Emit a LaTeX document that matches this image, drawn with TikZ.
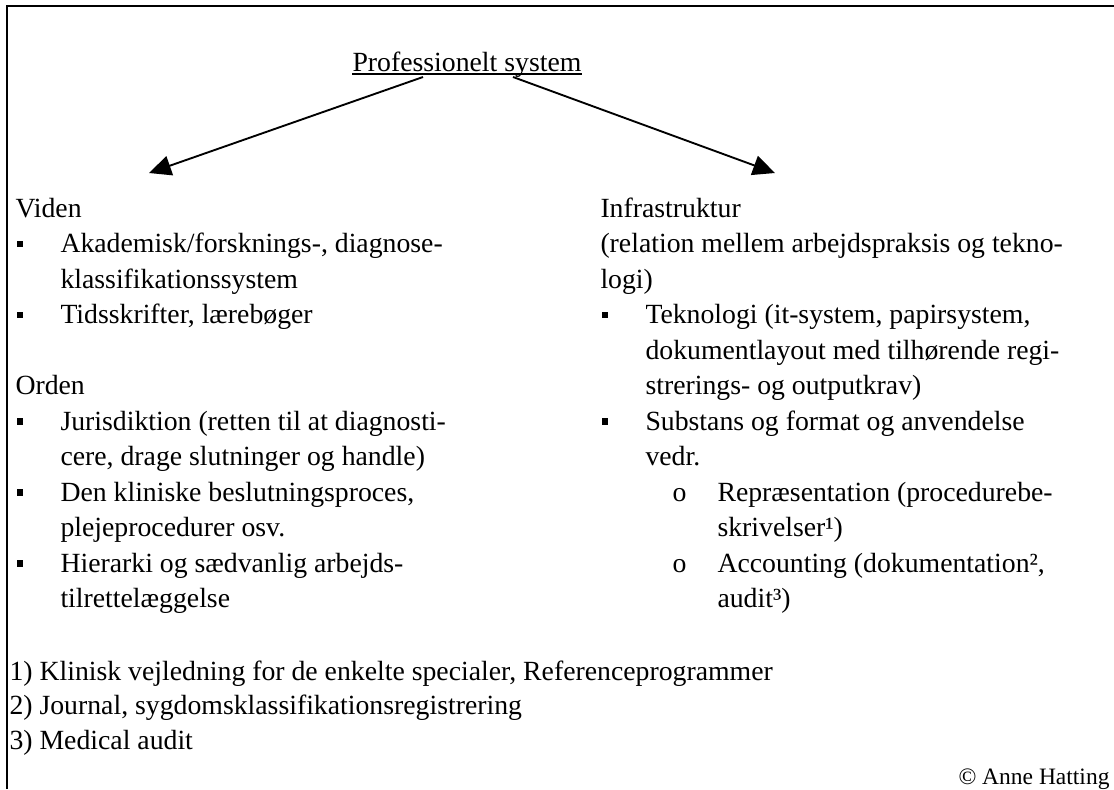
\documentclass[tikz,border=0pt]{standalone}
\usepackage{fontspec}
\setmainfont{Liberation Serif}
\usetikzlibrary{arrows.meta,calc}
\begin{document}
\begin{tikzpicture}[x=0.4pt,y=-0.4pt,
  txt/.style={anchor=base west,inner sep=0pt,font=\fontsize{11.1}{13}\selectfont},
  credit/.style={anchor=base east,inner sep=0pt,font=\fontsize{9.4}{11}\selectfont},
  sqbullet/.style={fill=black,draw=none,minimum size=2.7pt,inner sep=0pt},
  frame/.style={line width=0.72pt},
  arr/.style={line width=0.75pt,-{Triangle[length=8.8pt,width=8pt]}},
  uline/.style={line width=0.5pt}]
\useasboundingbox (0,0) rectangle (1114,789);

% open frame: left and top edges
\draw[frame] (7,789) -- (7,6) -- (1114,6);

% heading with underline and the two branches
\node[txt] (title) at (352,71) {Professionelt system};
\draw[uline] ($(title.base west)+(0,3)$) -- ($(title.base east)+(0,3)$);
\coordinate (lt) at (149,173);
\coordinate (rt) at (775,173);
\draw[arr] ($(title.base west)+(71,6)$) -- (lt);
\draw[arr] ($(title.base west)+(161,6)$) -- (rt);

% left column: Viden / Orden
\node[txt] (vid) at (15,217) {Viden};
\node[sqbullet] (lb1) at (20,244) {};
\node[txt] (l1a) at (60,252.5) {Akademisk/forsknings-, diagnose-};
\node[txt] (l1b) at (60,288) {klassifikationssystem};
\node[sqbullet] (lb2) at (20,315) {};
\node[txt] (l2a) at (60,323.5) {Tidsskrifter, lærebøger};

\node[txt] (ord) at (15,394.5) {Orden};
\node[sqbullet] (lb3) at (20,421.5) {};
\node[txt] (l3a) at (60,430) {Jurisdiktion (retten til at diagnosti-};
\node[txt] (l3b) at (60,465.5) {cere, drage slutninger og handle)};
\node[sqbullet] (lb4) at (20,492.5) {};
\node[txt] (l4a) at (60,501) {Den kliniske beslutningsproces,};
\node[txt] (l4b) at (60,536.5) {plejeprocedurer osv.};
\node[sqbullet] (lb5) at (20,563.5) {};
\node[txt] (l5a) at (60,572) {Hierarki og sædvanlig arbejds-};
\node[txt] (l5b) at (60,607.5) {tilrettelæggelse};

% right column: Infrastruktur
\node[txt] (inf) at (600,217) {Infrastruktur};
\node[txt] (r0a) at (600,252.5) {(relation mellem arbejdspraksis og tekno-};
\node[txt] (r0b) at (600,288) {logi)};
\node[sqbullet] (rb1) at (605,315) {};
\node[txt] (r1a) at (645,323.5) {Teknologi (it-system, papirsystem,};
\node[txt] (r1b) at (645,359) {dokumentlayout med tilhørende regi-};
\node[txt] (r1c) at (645,394.5) {strerings- og outputkrav)};
\node[sqbullet] (rb2) at (605,421.5) {};
\node[txt] (r2a) at (645,430) {Substans og format og anvendelse};
\node[txt] (r2b) at (645,465.5) {vedr.};
\node[txt] (ro1) at (672,501) {o};
\node[txt] (r3a) at (717,501) {Repræsentation (procedurebe-};
\node[txt] (r3b) at (717,536.5) {skrivelser¹)};
\node[txt] (ro2) at (672,572) {o};
\node[txt] (r4a) at (717,572) {Accounting (dokumentation²,};
\node[txt] (r4b) at (717,607.5) {audit³)};

% footnotes
\node[txt] (fn1) at (9,680) {1) Klinisk vejledning for de enkelte specialer, Referenceprogrammer};
\node[txt] (fn2) at (9,714.5) {2) Journal, sygdomsklassifikationsregistrering};
\node[txt] (fn3) at (9,749) {3) Medical audit};
\node[credit] (cr) at (1110,784) {© Anne Hatting};
\end{tikzpicture}
\end{document}
